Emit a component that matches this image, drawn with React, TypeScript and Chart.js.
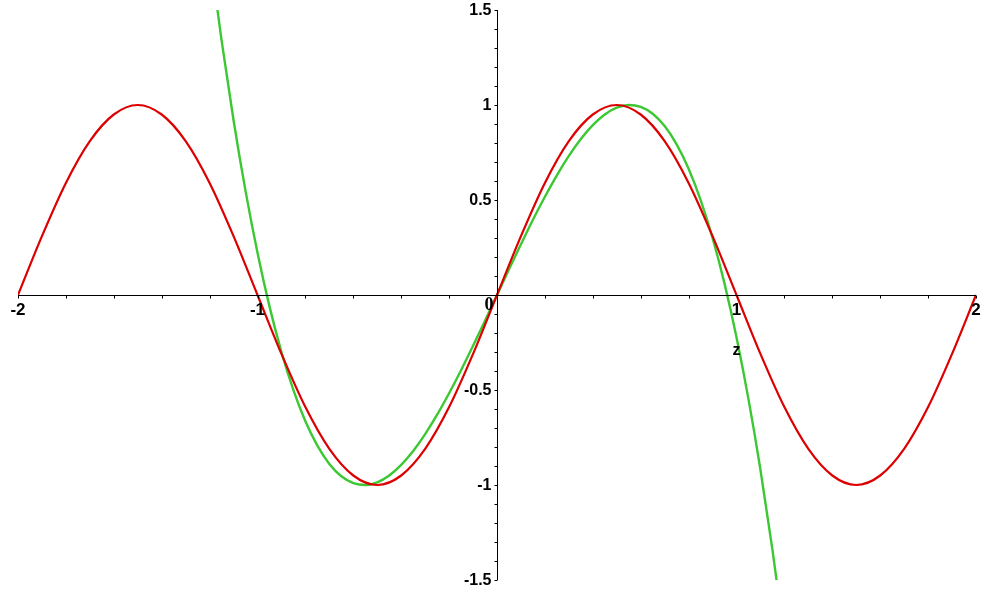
import React, { useEffect, useRef } from "react";
import { Chart, registerables } from "chart.js";

Chart.register(...registerables);

// red curve, x from -2 to 2 step 0.1
const redX = [-2, -1.9, -1.8, -1.7, -1.6, -1.5, -1.4, -1.3, -1.2, -1.1, -1, -0.9, -0.8, -0.7, -0.6, -0.5, -0.4, -0.3, -0.2, -0.1, 0, 0.1, 0.2, 0.3, 0.4, 0.5, 0.6, 0.7, 0.8, 0.9, 1, 1.1, 1.2, 1.3, 1.4, 1.5, 1.6, 1.7, 1.8, 1.9, 2];
const redY = [0, 0.31, 0.59, 0.81, 0.95, 1, 0.95, 0.81, 0.59, 0.31, 0, -0.31, -0.59, -0.81, -0.95, -1, -0.95, -0.81, -0.59, -0.31, 0, 0.31, 0.59, 0.81, 0.95, 1, 0.95, 0.81, 0.59, 0.31, 0, -0.31, -0.59, -0.81, -0.95, -1, -0.95, -0.81, -0.59, -0.31, 0];

// green curve, x from -1.2 to 1.2 step 0.05
const greenX = [-1.2, -1.15, -1.1, -1.05, -1, -0.95, -0.9, -0.85, -0.8, -0.75, -0.7, -0.65, -0.6, -0.55, -0.5, -0.45, -0.4, -0.35, -0.3, -0.25, -0.2, -0.15, -0.1, -0.05, 0, 0.05, 0.1, 0.15, 0.2, 0.25, 0.3, 0.35, 0.4, 0.45, 0.5, 0.55, 0.6, 0.65, 0.7, 0.75, 0.8, 0.85, 0.9, 0.95, 1, 1.05, 1.1, 1.15, 1.2];
const greenY = [1.81, 1.34, 0.92, 0.548, 0.222, -0.06, -0.3, -0.501, -0.665, -0.793, -0.889, -0.954, -0.99, -1, -0.986, -0.95, -0.894, -0.821, -0.732, -0.63, -0.517, -0.396, -0.267, -0.135, 0, 0.135, 0.267, 0.396, 0.517, 0.63, 0.732, 0.821, 0.894, 0.95, 0.986, 1, 0.99, 0.954, 0.889, 0.793, 0.665, 0.501, 0.3, 0.06, -0.222, -0.548, -0.92, -1.34, -1.81];

const xMajorTicks = [-2, -1, 1, 2];
const xMajorLabels = ["-2", "-1", "1", "2"];
const xMinorTicks = [-1.8, -1.6, -1.4, -1.2, -0.8, -0.6, -0.4, -0.2, 0.2, 0.4, 0.6, 0.8, 1.2, 1.4, 1.6, 1.8];
const yMajorTicks = [1.5, 1, 0.5, -0.5, -1, -1.5];
const yMajorLabels = ["1.5", "1", "0.5", "-0.5", "-1", "-1.5"];
const yMinorTicks = [1.4, 1.3, 1.2, 1.1, 0.9, 0.8, 0.7, 0.6, 0.4, 0.3, 0.2, 0.1, -0.1, -0.2, -0.3, -0.4, -0.6, -0.7, -0.8, -0.9, -1.1, -1.2, -1.3, -1.4];
const originLabel = "0";
const axisName = "z";
const axisNameAt = [1.0, -0.295];

const axesPlugin = {
  id: "mapleAxes",
  afterDatasetsDraw(chart: any) {
    const { ctx, scales } = chart;
    const xs = scales.x;
    const ys = scales.y;
    const x0 = Math.round(xs.getPixelForValue(0)) + 0.5;
    const y0 = Math.round(ys.getPixelForValue(0)) + 0.5;
    ctx.save();
    ctx.strokeStyle = "#000";
    ctx.lineWidth = 1;
    ctx.beginPath();
    ctx.moveTo(xs.getPixelForValue(-2), y0);
    ctx.lineTo(xs.getPixelForValue(2), y0);
    ctx.moveTo(x0, ys.getPixelForValue(1.5));
    ctx.lineTo(x0, ys.getPixelForValue(-1.5));
    const tl = 3;
    [...xMajorTicks, ...xMinorTicks].forEach((v) => {
      const px = Math.round(xs.getPixelForValue(v)) + 0.5;
      ctx.moveTo(px, y0);
      ctx.lineTo(px, y0 + tl);
    });
    [...yMajorTicks, ...yMinorTicks].forEach((v) => {
      const py = Math.round(ys.getPixelForValue(v)) + 0.5;
      ctx.moveTo(x0, py);
      ctx.lineTo(x0 - tl, py);
    });
    ctx.stroke();

    ctx.fillStyle = "#000";
    ctx.font = "bold 17px 'Liberation Sans', Arial, sans-serif";
    ctx.textAlign = "center";
    ctx.textBaseline = "top";
    xMajorTicks.forEach((v, i) => {
      ctx.fillText(xMajorLabels[i], xs.getPixelForValue(v), y0 + 6);
    });
    ctx.font = "bold 16px 'Liberation Sans', Arial, sans-serif";
    ctx.textAlign = "right";
    ctx.textBaseline = "middle";
    yMajorTicks.forEach((v, i) => {
      ctx.fillText(yMajorLabels[i], x0 - 6, ys.getPixelForValue(v) + 1);
    });
    ctx.font = "bold 18px 'Liberation Serif', serif";
    ctx.textAlign = "right";
    ctx.textBaseline = "top";
    ctx.fillText(originLabel, x0 - 4, y0 + 1);
    ctx.font = "bold 16px 'Liberation Sans', Arial, sans-serif";
    ctx.textAlign = "center";
    ctx.textBaseline = "middle";
    ctx.fillText(axisName, xs.getPixelForValue(axisNameAt[0]), ys.getPixelForValue(axisNameAt[1]));
    ctx.restore();
  },
};

export default function App() {
  const ref = useRef<HTMLCanvasElement | null>(null);
  useEffect(() => {
    document.body.style.margin = "0";
    const canvas = ref.current;
    if (!canvas) return;
    const chart = new Chart(canvas, {
      type: "line",
      data: {
        datasets: [
          {
            label: "red",
            data: redX.map((x, i) => ({ x, y: redY[i] })),
            borderColor: "rgb(220,0,0)",
            borderWidth: 2.2,
            pointRadius: 0,
            cubicInterpolationMode: "monotone",
            fill: false,
          },
          {
            label: "green",
            data: greenX.map((x, i) => ({ x, y: greenY[i] })),
            borderColor: "rgb(60,200,50)",
            borderWidth: 2.4,
            pointRadius: 0,
            cubicInterpolationMode: "monotone",
            fill: false,
          },
        ],
      },
      options: {
        responsive: false,
        animation: false,
        devicePixelRatio: 1,
        layout: { padding: { left: 18, right: 16, top: 10, bottom: 11 } },
        plugins: { legend: { display: false }, tooltip: { enabled: false } },
        scales: {
          x: { type: "linear", min: -2, max: 2, display: false },
          y: { type: "linear", min: -1.5, max: 1.5, display: false },
        },
      },
      plugins: [axesPlugin],
    });
    return () => chart.destroy();
  }, []);
  return (
    <div style={{ position: "fixed", left: 0, top: 0, width: 992, height: 591, background: "#fff" }}>
      <canvas ref={ref} width={992} height={591} style={{ display: "block", width: 992, height: 591 }} />
    </div>
  );
}
